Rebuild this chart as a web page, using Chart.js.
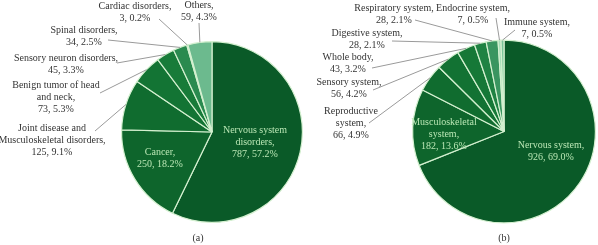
<!DOCTYPE html>
<html><head><meta charset="utf-8">
<script src="https://cdn.jsdelivr.net/npm/chart.js@4/dist/chart.umd.min.js"></script>
<style>
html,body{margin:0;padding:0;background:#fff;}
#wrap{position:relative;width:598px;height:245px;overflow:hidden;}
#c1{position:absolute;left:0;top:0;}
#c2{position:absolute;left:300px;top:0;}
</style></head><body>
<div id="wrap">
<canvas id="c1" width="310" height="245"></canvas>
<canvas id="c2" width="298" height="245"></canvas>
</div>
<script>
// ---- Data (a) ----
const catsA = ["Nervous system disorders", "Cancer", "Joint disease and Musculoskeletal disorders", "Benign tumor of head and neck", "Sensory neuron disorders", "Spinal disorders", "Cardiac disorders", "Others"];
const valsA = [787, 250, 125, 73, 45, 34, 3, 59];
const pctA = ["57.2%", "18.2%", "9.1%", "5.3%", "3.3%", "2.5%", "0.2%", "4.3%"];
// ---- Data (b) ----
const catsB = ["Nervous system", "Musculoskeletal system", "Reproductive system", "Sensory system", "Whole body", "Digestive system", "Respiratory system", "Endocrine system", "Immune system"];
const valsB = [926, 182, 66, 56, 43, 28, 28, 7, 7];
const pctB = ["69.0%", "13.6%", "4.9%", "4.2%", "3.2%", "2.1%", "2.1%", "0.5%", "0.5%"];

// ---- Styles ----
const colorsA = ["#0a5a28", "#0e652c", "#106c2f", "#137434", "#187b39", "#2a8a4f", "#9fd9b0", "#6cba8e"];
const colorsB = ["#0a5a28", "#0e652c", "#106c2f", "#127233", "#167837", "#1f8243", "#3a9560", "#a8ddb8", "#7cc49a"];
const sepColor = "#d4f0d0";
const FONT = "10px 'Liberation Serif', 'DejaVu Serif', serif";

// label layout (text built from data arrays)
const layoutA = [
  {i:0, lines:["Nervous system", "disorders,", "{v}, {p}"], x:255, y:130, inside:true},
  {i:1, lines:["Cancer,", "{v}, {p}"], x:160, y:152, inside:true},
  {i:2, lines:["Joint disease and", "Musculoskeletal disorders,", "{v}, {p}"], x:52, y:128, lead:[95,131]},
  {i:3, lines:["Benign tumor of head", "and neck,", "{v}, {p}"], x:56, y:85, lead:[100,93]},
  {i:4, lines:["Sensory neuron disorders,", "{v}, {p}"], x:66, y:58, lead:[117,63]},
  {i:5, lines:["Spinal disorders,", "{v}, {p}"], x:84, y:30, lead:[108,40]},
  {i:6, lines:["Cardiac disorders,", "{v}, {p}"], x:135, y:6, lead:[159,19]},
  {i:7, lines:["Others,", "{v}, {p}"], x:199, y:5, lead:[199,23]}
];
const layoutB = [
  {i:0, lines:["Nervous system,", "{v}, {p}"], x:251, y:145, inside:true},
  {i:1, lines:["Musculoskeletal", "system,", "{v}, {p}"], x:144, y:122, inside:true},
  {i:2, lines:["Reproductive", "system,", "{v}, {p}"], x:51, y:111, lead:[69,123]},
  {i:3, lines:["Sensory system,", "{v}, {p}"], x:49, y:82, lead:[73,90]},
  {i:4, lines:["Whole body,", "{v}, {p}"], x:48, y:57, lead:[72,68]},
  {i:5, lines:["Digestive system,", "{v}, {p}"], x:67, y:33, lead:[92,41]},
  {i:6, lines:["Respiratory system,", "{v}, {p}"], x:94, y:8, lead:[115,20]},
  {i:7, lines:["Endocrine system,", "{v}, {p}"], x:173, y:8, lead:[196,18]},
  {i:8, lines:["Immune system,", "{v}, {p}"], x:237, y:22, lead:[215,30]}
];

function labelPlugin(layout, vals, pcts, caption, capX) {
  return {
    id: 'lbl',
    afterDraw(chart) {
      const ctx = chart.ctx;
      const meta = chart.getDatasetMeta(0);
      ctx.save();
      ctx.font = FONT;
      ctx.textAlign = 'center';
      ctx.textBaseline = 'middle';
      layout.forEach(L => {
        const arc = meta.data[L.i];
        const p = arc.getProps(['x','y','startAngle','endAngle','outerRadius'], true);
        if (L.lead) {
          const mid = (p.startAngle + p.endAngle) / 2;
          const ex = p.x + Math.cos(mid) * p.outerRadius;
          const ey = p.y + Math.sin(mid) * p.outerRadius;
          ctx.strokeStyle = '#9a9a9a';
          ctx.lineWidth = 1;
          ctx.beginPath();
          ctx.moveTo(L.lead[0], L.lead[1]);
          ctx.lineTo(ex, ey);
          ctx.stroke();
        }
        ctx.fillStyle = L.inside ? '#b9e6b4' : '#333333';
        L.lines.forEach((t, k) => {
          const s = t.replace('{v}', vals[L.i]).replace('{p}', pcts[L.i]);
          ctx.fillText(s, L.x, L.y + k * 12);
        });
      });
      ctx.fillStyle = '#333333';
      ctx.fillText(caption, capX, 238);
      ctx.restore();
    }
  };
}

function makePie(id, cats, vals, colors, padding, plugin) {
  return new Chart(document.getElementById(id), {
    type: 'pie',
    data: { labels: cats, datasets: [{ data: vals, backgroundColor: colors, borderColor: sepColor, borderWidth: 1.2 }] },
    options: {
      responsive: false, animation: false,
      layout: { padding: padding },
      plugins: { legend: { display: false }, tooltip: { enabled: false } }
    },
    plugins: [plugin]
  });
}

makePie('c1', catsA, valsA, colorsA, {left:121, right:7, top:41, bottom:22}, labelPlugin(layoutA, valsA, pctA, '(a)', 198));
makePie('c2', catsB, valsB, colorsB, {left:112, right:2, top:39, bottom:21}, labelPlugin(layoutB, valsB, pctB, '(b)', 204));
</script>
</body></html>
